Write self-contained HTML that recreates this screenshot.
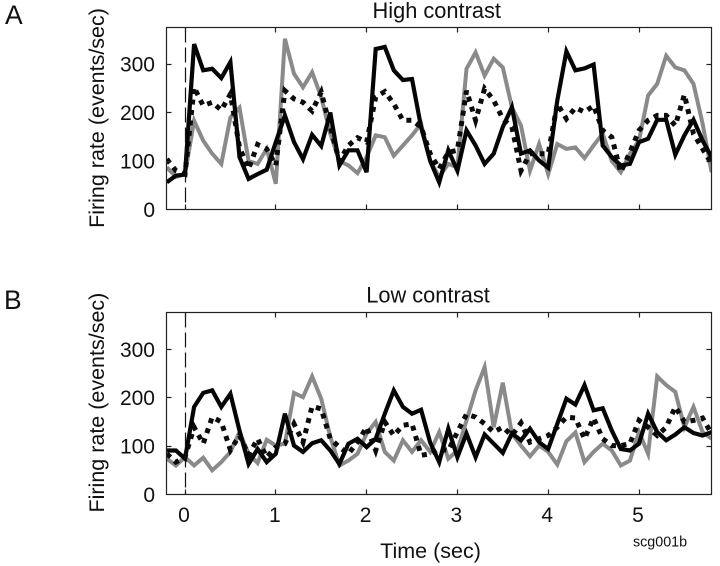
<!DOCTYPE html>
<html>
<head>
<meta charset="utf-8">
<title>Firing rate chart</title>
<style>
html,body{margin:0;padding:0;background:#fff;}
svg{display:block;font-family:"Liberation Sans",sans-serif;fill:#111;}
</style>
</head>
<body>
<svg id="chart" width="720" height="566" viewBox="0 0 720 566" xmlns="http://www.w3.org/2000/svg">
<rect width="720" height="566" fill="#fff"/>
<text x="5" y="24" font-size="26.5" fill="#111">A</text>
<text x="4" y="309" font-size="26.5" fill="#111">B</text>
<text x="436.7" y="18" font-size="21.8" text-anchor="middle" fill="#111">High contrast</text>
<text x="428" y="302.7" font-size="21.8" text-anchor="middle" fill="#111">Low contrast</text>
<text transform="translate(104,118) rotate(-90)" font-size="21.5" text-anchor="middle" fill="#111">Firing rate (events/sec)</text>
<text transform="translate(104,402.6) rotate(-90)" font-size="21.5" text-anchor="middle" fill="#111">Firing rate (events/sec)</text>
<text x="430.5" y="558" font-size="21.5" text-anchor="middle" fill="#111">Time (sec)</text>
<text x="633" y="546.7" font-size="14.3" fill="#111">scg001b</text>
</svg>
<script>
const startTime = -0.2;
const sampleStep = 0.1;
const xTicks = [0, 1, 2, 3, 4, 5];
const yTicks = [0, 100, 200, 300];

const highSolid = [56,70,72,341,287,290,271,304,108,63,73,82,139,194,139,104,154,131,200,91,122,122,77,331,335,287,267,269,170,100,56,122,80,163,132,94,115,170,211,115,122,101,86,225,326,287,291,299,132,108,91,94,139,146,185,185,113,153,185,142,108];
const highGray = [87,67,73,183,142,115,94,190,210,100,94,125,53,352,280,252,283,232,156,100,91,75,108,153,149,111,132,153,177,100,67,94,87,290,324,276,311,293,211,173,80,135,73,135,125,128,106,132,156,100,77,115,142,235,259,317,293,287,259,177,77];
const highDotted = [104,80,73,252,214,221,205,238,128,84,134,125,91,245,228,221,203,242,170,100,132,148,139,232,243,218,184,184,170,115,84,118,122,245,184,249,225,187,170,80,115,115,115,218,187,210,201,214,163,149,77,118,163,184,194,194,173,237,156,125,94];

const lowSolid = [91,91,74,181,210,215,181,208,132,63,94,67,84,167,101,88,106,112,91,63,105,115,98,115,167,215,181,167,175,107,67,136,77,126,77,124,105,86,126,112,136,108,94,146,198,186,226,174,178,132,94,91,105,167,129,112,124,139,127,122,129];
const lowGray = [74,60,77,60,76,50,67,88,129,84,65,113,101,105,210,201,244,198,119,60,70,84,126,150,88,70,112,88,112,88,129,74,91,153,215,263,139,231,126,101,79,101,88,62,110,128,67,88,105,91,60,70,129,84,244,226,212,139,181,129,115];
const lowDotted = [84,67,77,139,105,160,150,92,122,81,115,77,98,105,146,108,182,177,115,98,84,108,139,91,150,122,143,146,81,84,94,91,129,166,160,146,129,139,122,148,108,115,122,139,160,158,115,158,115,101,101,105,153,139,122,139,181,150,153,158,125];

const panelAConfig = {key:'high', left:166.5, right:711.5, top:27.5, bottom:209.5, yPerUnit:0.485};
const panelBConfig = {key:'low', left:166.5, right:711.5, top:312.5, bottom:494.5, yPerUnit:0.484};
const NS = 'http://www.w3.org/2000/svg';
const svg = document.getElementById('chart');

function xScale(t){ return 185 + t * 90.8; }
function crisp(v){ return Math.floor(v) + 0.5; }
function make(tag, attrs){
  const el = document.createElementNS(NS, tag);
  for (const k in attrs) el.setAttribute(k, attrs[k]);
  return el;
}
function drawSeries(panel, values, style, clipId){
  const yScale = v => panel.bottom - v * panel.yPerUnit;
  const pts = values.map((v, i) => xScale(startTime + i * sampleStep).toFixed(1) + ',' + yScale(v).toFixed(1)).join(' ');
  const line = make('polyline', {points: pts, fill: 'none', stroke: style.color, 'stroke-width': style.width, 'stroke-linejoin': 'miter', 'stroke-miterlimit': 4, 'clip-path': 'url(#' + clipId + ')'});
  if (style.dash) line.setAttribute('stroke-dasharray', style.dash);
  
  
  svg.appendChild(line);
}
function drawPanel(panel, gray, dotted, solid){
  const yScale = v => panel.bottom - v * panel.yPerUnit;
  const clipId = panel.key + '-clip';
  const clip = make('clipPath', {id: clipId});
  clip.appendChild(make('rect', {x: panel.left, y: panel.top, width: panel.right - panel.left, height: panel.bottom - panel.top}));
  svg.appendChild(clip);

  drawSeries(panel, gray, {name: 'gray', color: '#8a8a8a', width: 4}, clipId);
  drawSeries(panel, dotted, {name: 'dotted', color: '#0c0c0c', width: 5, dash: '5 5.5'}, clipId);
  drawSeries(panel, solid, {name: 'solid', color: '#050505', width: 4.2}, clipId);

  const frame = make('rect', {x: panel.left, y: panel.top, width: panel.right - panel.left, height: panel.bottom - panel.top, fill: 'none', stroke: '#222', 'stroke-width': 1.2});
  
  
  svg.appendChild(frame);

  const stimX = crisp(xScale(0));
  const stim = make('line', {x1: stimX, x2: stimX, y1: panel.top, y2: panel.bottom, stroke: '#111', 'stroke-width': 1.2, 'stroke-dasharray': '15 5'});
  
  
  svg.appendChild(stim);

  xTicks.forEach(t => {
    const x = crisp(xScale(t));
    const a = make('line', {x1: x, x2: x, y1: panel.top, y2: panel.top + 5, stroke: '#222', 'stroke-width': 1.2});
    
    
    svg.appendChild(a);
    const b = make('line', {x1: x, x2: x, y1: panel.bottom, y2: panel.bottom - 5, stroke: '#222', 'stroke-width': 1.2});
    
    
    svg.appendChild(b);
  });
  yTicks.forEach(v => {
    const y = yScale(v);
    if (v > 0) {
      const cy = crisp(y);
      const a = make('line', {x1: panel.left, x2: panel.left + 5, y1: cy, y2: cy, stroke: '#222', 'stroke-width': 1.2});
      
      
      svg.appendChild(a);
      const b = make('line', {x1: panel.right, x2: panel.right - 5, y1: cy, y2: cy, stroke: '#222', 'stroke-width': 1.2});
      
      
      svg.appendChild(b);
    }
    const label = make('text', {x: 155, y: y + 7.5, 'font-size': 21, 'text-anchor': 'end', fill: '#111'});
    label.textContent = String(v);
    
    
    svg.appendChild(label);
  });
}
drawPanel(panelAConfig, highGray, highDotted, highSolid);
drawPanel(panelBConfig, lowGray, lowDotted, lowSolid);
xTicks.forEach(t => {
  const label = make('text', {x: xScale(t) - 1, y: 522, 'font-size': 21, 'text-anchor': 'middle', fill: '#111'});
  label.textContent = String(t);
  
  
  svg.appendChild(label);
});
</script>
</body>
</html>
